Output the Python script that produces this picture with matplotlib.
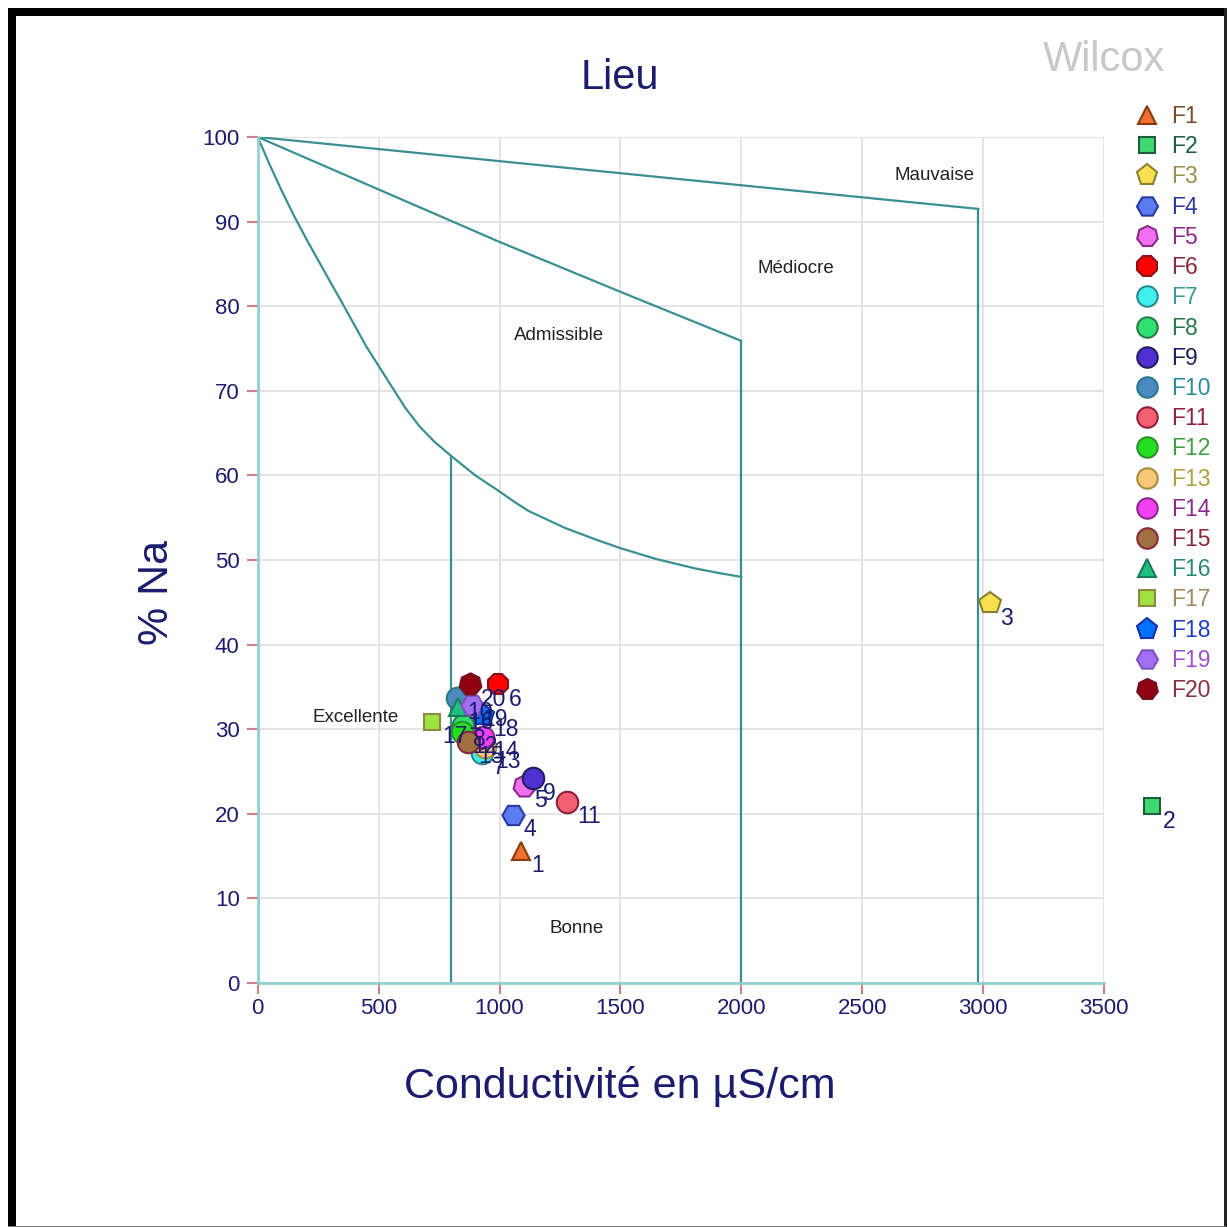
import matplotlib
matplotlib.use("Agg")
import matplotlib.pyplot as plt
from matplotlib.lines import Line2D
from matplotlib.patches import Rectangle

plt.rcParams['font.family'] = ['Liberation Sans', 'DejaVu Sans']

# ---------------- data ----------------
names = ["F1", "F2", "F3", "F4", "F5", "F6", "F7", "F8", "F9", "F10",
         "F11", "F12", "F13", "F14", "F15", "F16", "F17", "F18", "F19", "F20"]
point_labels = [str(i) for i in range(1, 21)]
conductivity = [1089, 3699, 3029, 1056, 1101, 994, 928, 849, 1138, 824,
                1279, 845, 940, 932, 870, 828, 721, 932, 886, 878]
pct_na = [15.6, 20.9, 44.9, 19.9, 23.3, 35.3, 27.2, 30.5, 24.2, 33.7,
          21.4, 29.7, 27.9, 29.1, 28.5, 32.6, 30.9, 31.7, 32.9, 35.3]

HEPT = (7, 0, 0)
markers = ['^', 's', 'p', 'H', HEPT, '8', 'o', 'o', 'o', 'o',
           'o', 'o', 'o', 'o', 'o', '^', 's', 'p', 'H', HEPT]
msizes = [13, 11.5, 16, 16, 16, 16, 15.5, 15.5, 15.5, 15.5,
          15.5, 15.5, 15.5, 15.5, 15.5, 13, 11.5, 16, 16, 16]
face_colors = ['#f07030', '#40d870', '#f8e050', '#5a7cf0', '#f070f0', '#ff0000',
               '#40f0f0', '#30e070', '#5030d0', '#4a8ac0', '#f06070', '#20e020',
               '#f8c878', '#f040f0', '#a07040', '#20c080', '#a0e040', '#0070ff',
               '#a070f0', '#900010']
edge_colors = ['#8a3a10', '#1e5e3e', '#8a8030', '#2a3aa0', '#8a2a8a', '#8a1020',
               '#2a8a8a', '#2a7a4a', '#202060', '#2a7a8a', '#902040', '#309030',
               '#a09040', '#8a2a8a', '#8a2a3a', '#1a7a5a', '#8a8a40', '#1a30b0',
               '#8050c0', '#701020']
legend_text_colors = ['#7a4a2a', '#1e5e3e', '#9a9050', '#2a3aa0', '#8a2a8a', '#8a2a3a',
                      '#3a9a9a', '#2a7a4a', '#202060', '#2a8a9a', '#902040', '#40a040',
                      '#b0a040', '#8a2a8a', '#8a2a3a', '#2a8a7a', '#a08a60', '#2040c0',
                      '#a050d0', '#8a3040']

# Wilcox boundaries
curve_x = [0, 50, 100, 150, 200, 280, 353, 450, 552, 610, 669, 730, 800,
           900, 1000, 1060, 1120, 1270, 1400, 1500, 1650, 1810, 1900, 2000]
curve_y = [100, 96.7, 93.6, 90.7, 88.0, 83.9, 80.2, 75.2, 70.6, 68.0, 65.8, 64.0, 62.3,
           60.0, 58.1, 56.9, 55.8, 53.8, 52.4, 51.4, 50.1, 49.0, 48.5, 48.0]
mid_x = [0, 500, 1000, 1500, 2000]
mid_y = [100, 93.8, 87.6, 81.7, 75.9]
top_x = [0, 2980]
top_y = [100, 91.5]
excellent_limit = 800
mediocre_limit = 2000
mauvaise_limit = 2980

zones = ["Mauvaise", "Médiocre", "Admissible", "Excellente", "Bonne"]
zone_x = [2801, 2227, 1246, 403, 1321]
zone_y = [95.5, 84.5, 76.5, 31.4, 6.4]

xticks = [0, 500, 1000, 1500, 2000, 2500, 3000, 3500]
yticks = [0, 10, 20, 30, 40, 50, 60, 70, 80, 90, 100]

# ---------------- figure ----------------
W = 1227
fig = plt.figure(figsize=(12.27, 12.27), dpi=100)
ax = fig.add_axes([257.7 / W, (W - 983) / W, 846.3 / W, 846 / W])

navy = '#1c1c6e'
teal = '#3a9090'

ax.set_xlim(0, 3500)
ax.set_ylim(0, 100)
ax.set_xticks(xticks)
ax.set_yticks(yticks)
ax.grid(True, color='#e2e2e2', linewidth=1.3)
ax.set_axisbelow(True)
for s in ['top', 'right']:
    ax.spines[s].set_visible(False)
for s in ['left', 'bottom']:
    ax.spines[s].set_color('#90d0d0')
    ax.spines[s].set_linewidth(2)
ax.tick_params(axis='both', direction='out', length=8, width=1.5,
               color='#d08080', labelcolor=navy, labelsize=16)
ax.tick_params(axis='y', pad=5)
ax.tick_params(axis='x', pad=3)

lw = 1.6
ax.plot(curve_x, curve_y, color=teal, lw=lw)
ax.plot(mid_x, mid_y, color=teal, lw=lw)
ax.plot(top_x, top_y, color=teal, lw=lw)
y800 = curve_y[curve_x.index(excellent_limit)]
ax.plot([excellent_limit, excellent_limit], [0, y800], color=teal, lw=lw)
ax.plot([mediocre_limit, mediocre_limit], [0, mid_y[-1]], color=teal, lw=lw)
ax.plot([mauvaise_limit, mauvaise_limit], [0, top_y[-1]], color=teal, lw=lw)

for name, zx, zy in zip(zones, zone_x, zone_y):
    ax.text(zx, zy, name, ha='center', va='center', fontsize=13.5, color='#222222')

handles = []
for i in range(len(names)):
    ax.plot(conductivity[i], pct_na[i], linestyle='none', marker=markers[i],
            markersize=msizes[i], markerfacecolor=face_colors[i],
            markeredgecolor=edge_colors[i], markeredgewidth=1.5,
            clip_on=False, zorder=3)
    ax.annotate(point_labels[i], (conductivity[i], pct_na[i]),
                xytext=(7.5, -2.5), textcoords='offset points',
                ha='left', va='top', fontsize=16.5, color=navy,
                annotation_clip=False, zorder=4)
    handles.append(Line2D([], [], linestyle='none', marker=markers[i],
                          markersize=msizes[i] * 0.95, markerfacecolor=face_colors[i],
                          markeredgecolor=edge_colors[i], markeredgewidth=1.5))

leg = ax.legend(handles, names, loc='upper left',
                bbox_to_anchor=(1136 / W, 1 - 105 / W), bbox_transform=fig.transFigure,
                frameon=False, handlelength=1.0, handletextpad=0.55,
                labelspacing=0.315, borderpad=0, borderaxespad=0,
                fontsize=16.5, labelcolor=legend_text_colors)

ax.set_xlabel("Conductivité en µS/cm", fontsize=31, color=navy)
ax.xaxis.set_label_coords((620 - 257.7) / 846.3, (983 - 1066) / 846)
ax.set_ylabel("% Na", fontsize=31, color=navy)
ax.yaxis.set_label_coords((177 - 257.7) / 846.3, (983 - 592) / 846)

fig.text(620 / W, 1 - 78 / W, "Lieu", ha='center', va='center', fontsize=30, color=navy)
fig.text(1104 / W, 1 - 60 / W, "Wilcox", ha='center', va='center', fontsize=30, color='#c8c8c8')

# frame
fig.add_artist(Rectangle((8 / W, 1 - 16 / W), (1226 - 8) / W, 8 / W,
                         transform=fig.transFigure, color='black', lw=0))
fig.add_artist(Rectangle((8 / W, 0), 7.5 / W, 1 - 8 / W,
                         transform=fig.transFigure, color='black', lw=0))
fig.add_artist(Rectangle((1224 / W, 0), 2.5 / W, 1 - 8 / W,
                         transform=fig.transFigure, color='#222222', lw=0))
fig.add_artist(Rectangle((8 / W, 0), (1226 - 8) / W, 1.5 / W,
                         transform=fig.transFigure, color='#777777', lw=0))

fig.savefig("out.png", dpi=100)
